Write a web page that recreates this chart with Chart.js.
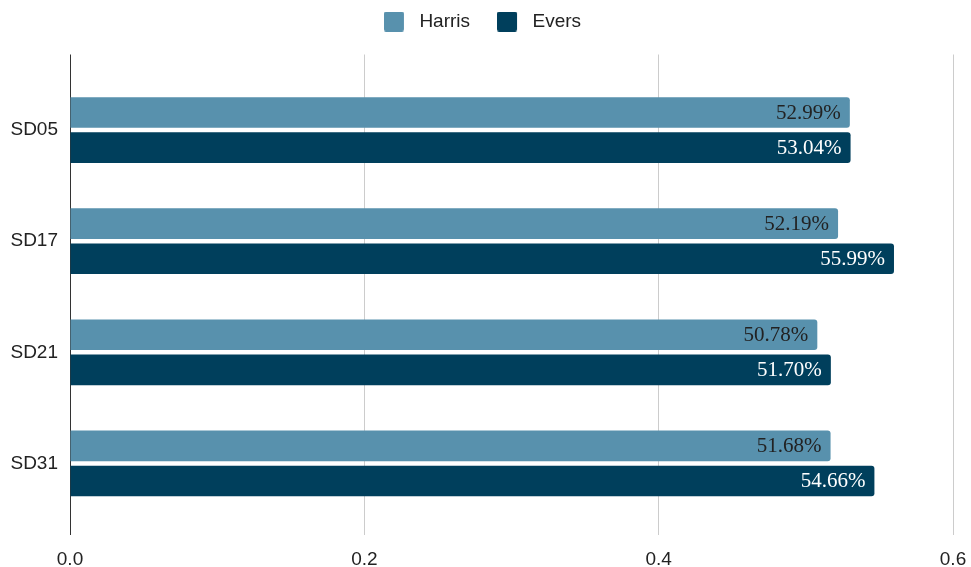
<!DOCTYPE html>
<html>
<head>
<meta charset="utf-8">
<script src="https://cdn.jsdelivr.net/npm/chart.js@4/dist/chart.umd.min.js"></script>
<style>
  html, body { margin: 0; padding: 0; background: #fff; }
  #wrap { width: 971px; height: 567px; }
</style>
</head>
<body>
<div id="wrap"><canvas id="chart"></canvas></div>
<script>
// Vote share by senate district
const districts = ['SD05', 'SD17', 'SD21', 'SD31'];
const harrisShare = [0.5299, 0.5219, 0.5078, 0.5168];
const eversShare = [0.5304, 0.5599, 0.5170, 0.5466];
const xTicks = [0, 0.2, 0.4, 0.6];

const HARRIS_COLOR = '#5891ad';
const EVERS_COLOR = '#003f5c';
const GRID_COLOR = '#cccccc';
const AXIS_COLOR = '#333333';
const SANS = '"Liberation Sans", Arial, sans-serif';

// Legend swatch: 20x20 rounded square on a 26px wide canvas (extra gap before the text)
const makeSwatch = color => {
    const c = document.createElement('canvas');
    c.width = 26;
    c.height = 20;
    const g = c.getContext('2d');
    g.fillStyle = color;
    g.beginPath();
    g.roundRect(0, 0, 20, 20, 2);
    g.fill();
    return c;
};

// Value labels drawn inside the end of each bar
const barLabels = {
    id: 'barLabels',
    afterDatasetsDraw(chart) {
        const ctx = chart.ctx;
        ctx.save();
        ctx.font = '21px "Liberation Serif", "DejaVu Serif", serif';
        ctx.textAlign = 'right';
        ctx.textBaseline = 'middle';
        chart.data.datasets.forEach((ds, i) => {
            const meta = chart.getDatasetMeta(i);
            meta.data.forEach((bar, j) => {
                ctx.fillStyle = ds.labelColor;
                ctx.fillText((ds.data[j] * 100).toFixed(2) + '%', bar.x - 9, bar.y + 1);
            });
        });
        ctx.restore();
    }
};

// Grid lines run a little above the plot area, like the original
const gridTop = {
    id: 'gridTop',
    beforeDatasetsDraw(chart) {
        const ctx = chart.ctx;
        const x = chart.scales.x;
        const top = chart.chartArea.top;
        ctx.save();
        ctx.lineWidth = 1;
        x.ticks.forEach(t => {
            const px = Math.round(x.getPixelForValue(t.value) - 0.5) + 0.5;
            ctx.strokeStyle = t.value === 0 ? AXIS_COLOR : GRID_COLOR;
            ctx.beginPath();
            ctx.moveTo(px, top - 20);
            ctx.lineTo(px, top + 1);
            ctx.stroke();
        });
        ctx.restore();
    }
};

// Fixed legend band height so the plot starts lower; legend centred on the full width
const legendSpace = {
    id: 'legendSpace',
    beforeInit(chart) {
        const origFit = chart.legend.fit;
        chart.legend.fit = function () {
            origFit.bind(chart.legend)();
            this.height = 89.5;
        };
    },
    afterLayout(chart) {
        chart.legend.left += 6;
        chart.legend.right += 6;
    }
};

new Chart(document.getElementById('chart').getContext('2d'), {
    type: 'bar',
    data: {
        labels: districts,
        datasets: [
            {
                label: 'Harris',
                data: harrisShare,
                backgroundColor: HARRIS_COLOR,
                pointStyle: makeSwatch(HARRIS_COLOR),
                labelColor: '#222222',
                borderRadius: 3,
                categoryPercentage: 0.63,
                barPercentage: 0.875
            },
            {
                label: 'Evers',
                data: eversShare,
                backgroundColor: EVERS_COLOR,
                pointStyle: makeSwatch(EVERS_COLOR),
                labelColor: '#ffffff',
                borderRadius: 3,
                categoryPercentage: 0.63,
                barPercentage: 0.875
            }
        ]
    },
    options: {
        indexAxis: 'y',
        responsive: true,
        maintainAspectRatio: false,
        animation: false,
        layout: { padding: { left: 0, right: 18, top: -15, bottom: 0 } },
        scales: {
            x: {
                min: 0,
                max: 0.6,
                afterBuildTicks: s => { s.ticks = xTicks.map(v => ({ value: v })); },
                afterFit: s => {
                    s.height = 48;
                    s.paddingRight = 0;
                    s.paddingLeft = 0;
                },
                ticks: {
                    callback: v => Number(v).toFixed(1),
                    color: '#222222',
                    font: { family: SANS, size: 19 },
                    padding: 13
                },
                grid: {
                    color: c => (c.tick && c.tick.value === 0 ? AXIS_COLOR : GRID_COLOR),
                    tickColor: c => (c.tick && c.tick.value === 0 ? AXIS_COLOR : GRID_COLOR),
                    tickLength: 16
                },
                border: { display: false }
            },
            y: {
                afterFit: s => { s.width = 70; },
                ticks: {
                    color: '#222222',
                    font: { family: SANS, size: 19 },
                    padding: 12
                },
                grid: { display: false, drawTicks: false },
                border: { display: true, color: AXIS_COLOR, width: 1 }
            }
        },
        plugins: {
            legend: {
                position: 'top',
                align: 'center',
                labels: {
                    usePointStyle: true,
                    pointStyleWidth: 26,
                    boxHeight: 20,
                    padding: 27,
                    color: '#222222',
                    font: { family: SANS, size: 19 }
                }
            },
            tooltip: { enabled: false }
        }
    },
    plugins: [barLabels, gridTop, legendSpace]
});
</script>
</body>
</html>
